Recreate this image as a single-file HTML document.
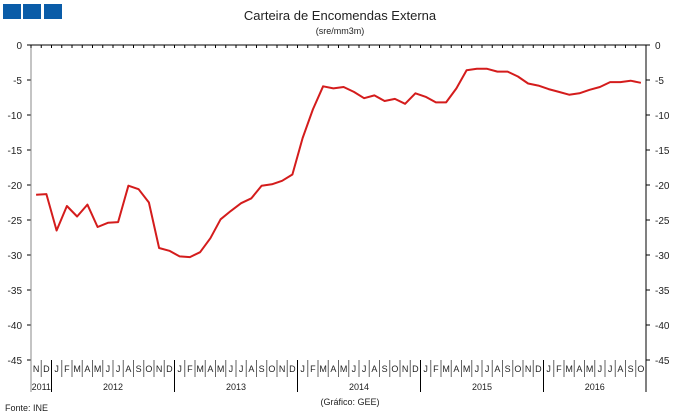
<!DOCTYPE html>
<html><head><meta charset="utf-8"><style>
body{margin:0;background:#fff;width:680px;height:417px;overflow:hidden}
svg{display:block;font-family:"Liberation Sans",sans-serif}
</style></head><body>
<svg id="s" width="680" height="417" xmlns="http://www.w3.org/2000/svg">
<rect x="3" y="4" width="18" height="15" fill="#0a5ca8"/>
<rect x="23" y="4" width="18" height="15" fill="#0a5ca8"/>
<rect x="44" y="4" width="18" height="15" fill="#0a5ca8"/>
<text x="340" y="20" font-size="13" text-anchor="middle" fill="#222">Carteira de Encomendas  Externa</text>
<text x="340" y="34" font-size="9" text-anchor="middle" fill="#222">(sre/mm3m)</text>
<g id="g"></g>
<text x="5" y="411" font-size="9" fill="#222">Fonte:  INE</text>
<text x="350" y="405" font-size="9" text-anchor="middle" fill="#222">(Gráfico:  GEE)</text>
</svg>
<script>
var g=document.getElementById('g'),h='';
var L=31,R=646,T=45,k=7,n=60,w=(R-L)/n;
function Y(v){return T-v*k;}
for(var v=0;v>=-45;v-=5){var y=Y(v);
h+='<text x="22" y="'+(y+4)+'" font-size="10" text-anchor="end" fill="#222">'+v+'</text>';
h+='<text x="655" y="'+(y+4)+'" font-size="10" fill="#222">'+v+'</text>';
h+='<line x1="27" x2="31" y1="'+y+'" y2="'+y+'" stroke="#000"/>';
h+='<line x1="646" x2="650" y1="'+y+'" y2="'+y+'" stroke="#000"/>';}
h+='<line x1="'+L+'" x2="'+L+'" y1="45" y2="392" stroke="#888"/>';
h+='<line x1="'+R+'" x2="'+R+'" y1="45" y2="392" stroke="#000"/>';
h+='<line x1="'+L+'" x2="'+R+'" y1="45" y2="45" stroke="#000"/>';
var m="NDJFMAMJJASO";
for(var i=0;i<n;i++){var x=L+w*(i+0.5);
h+='<text x="'+x+'" y="372" font-size="9" text-anchor="middle" fill="#222">'+m[i%12]+'</text>';
var bx=L+w*i;
h+='<line x1="'+bx+'" x2="'+bx+'" y1="45" y2="48" stroke="#000"/>';
if(i>0){var yr=(i%12==2);h+='<line x1="'+bx+'" x2="'+bx+'" y1="360" y2="'+(yr?392:377)+'" stroke="'+(yr?'#000':'#666')+'"/>';}}
var yrs=[[0,2,'2011'],[2,14,'2012'],[14,26,'2013'],[26,38,'2014'],[38,50,'2015'],[50,60,'2016']];
yrs.forEach(function(a){h+='<text x="'+(L+w*(a[0]+a[1])/2)+'" y="390" font-size="9" text-anchor="middle" fill="#222">'+a[2]+'</text>';});
var d=[-21.4,-21.3,-26.5,-23,-24.5,-22.8,-26,-25.4,-25.3,-20.1,-20.6,-22.5,-29,-29.4,-30.2,-30.3,-29.6,-27.6,-24.9,-23.7,-22.6,-21.9,-20.1,-19.9,-19.4,-18.5,-13.3,-9.2,-5.9,-6.2,-6,-6.7,-7.6,-7.2,-8,-7.7,-8.4,-6.9,-7.4,-8.2,-8.2,-6.2,-3.6,-3.4,-3.4,-3.8,-3.8,-4.5,-5.5,-5.8,-6.3,-6.7,-7.1,-6.9,-6.4,-6,-5.3,-5.3,-5.1,-5.4];
var p=d.map(function(v,i){return (L+w*(i+0.5)).toFixed(1)+','+Y(v).toFixed(1);}).join(' ');
h+='<polyline points="'+p+'" fill="none" stroke="#d41c1c" stroke-width="2" stroke-linejoin="round"/>';
g.innerHTML=h;
</script>
</body></html>
